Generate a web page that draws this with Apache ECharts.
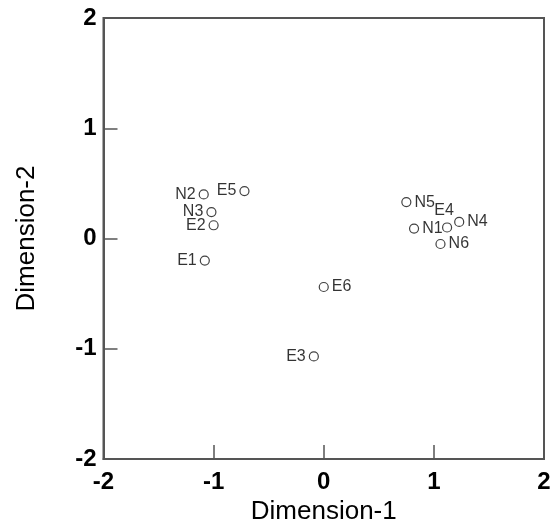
<!DOCTYPE html>
<html>
<head>
    <meta charset="utf-8">
    <title>Dimension plot</title>
    <script type="text/javascript" src="https://cdn.jsdelivr.net/npm/echarts@6/dist/echarts.min.js"></script>
    <style type="text/css">
        html, body { margin: 0; padding: 0; background: #fff; }
        #chart { width: 555px; height: 526px; }
    </style>
</head>
<body>
<div id="chart"></div>
<script type="text/javascript">
    // point names and coordinates
    let names = ['N2', 'E5', 'N3', 'E2', 'E1', 'N5', 'N1', 'E4', 'N4', 'N6', 'E6', 'E3'];
    let dim1 = [-1.09, -0.72, -1.02, -1.00, -1.08, 0.75, 0.82, 1.12, 1.23, 1.06, 0.00, -0.09];
    let dim2 = [0.40, 0.43, 0.24, 0.12, -0.20, 0.33, 0.09, 0.10, 0.15, -0.05, -0.44, -1.07];
    let labelSide = ['left', 'left', 'left', 'left', 'left', 'right', 'right', 'top', 'right', 'right', 'right', 'left'];
    let ticks = [-2, -1, 0, 1, 2];

    let points = names.map(function (n, i) {
        let item = { name: n, value: [dim1[i], dim2[i]], label: { position: labelSide[i] } };
        if (labelSide[i] === 'top') item.label.offset = [-3, -1];
        return item;
    });

    let axisCommon = {
        type: 'value',
        min: ticks[0],
        max: ticks[ticks.length - 1],
        interval: 1,
        splitLine: { show: false },
        axisLine: { show: true, onZero: false, lineStyle: { color: '#555', width: 2 } },
        axisTick: { show: true, inside: true, length: 14, lineStyle: { color: '#555', width: 1.5 } },
        axisLabel: { color: '#000', fontSize: 24, fontWeight: 'bold', fontFamily: 'Liberation Sans', margin: 7 },
        nameLocation: 'middle',
        nameTextStyle: { color: '#000', fontSize: 26, fontFamily: 'Liberation Sans' }
    };

    let chart = echarts.init(document.getElementById('chart'), null, { renderer: 'canvas' });
    chart.setOption({
        animation: false,
        grid: {
            left: 103.5, right: 11, top: 18, bottom: 67,
            outerBoundsMode: 'none',
            show: true, borderColor: '#555', borderWidth: 2
        },
        xAxis: Object.assign({}, axisCommon, {
            name: 'Dimension-1',
            nameGap: 38,
            axisLabel: Object.assign({}, axisCommon.axisLabel, { margin: 11 })
        }),
        yAxis: Object.assign({}, axisCommon, { name: 'Dimension-2', nameGap: 64 }),
        series: [{
            type: 'scatter',
            symbol: 'circle',
            symbolSize: 9,
            itemStyle: { color: '#fff', borderColor: '#111', borderWidth: 1.2 },
            label: {
                show: true,
                formatter: '{b}',
                color: '#000',
                fontSize: 16,
                fontFamily: 'Liberation Sans',
                distance: 3
            },
            data: points
        }]
    });
</script>
</body>
</html>
